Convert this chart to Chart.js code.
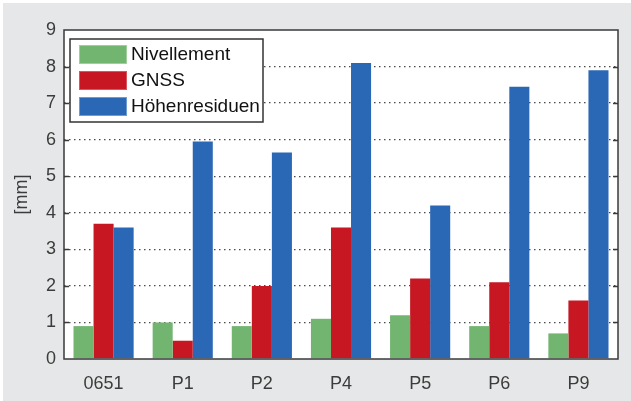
<!DOCTYPE html>
<html>
<head>
<meta charset="utf-8">
<script src="https://cdn.jsdelivr.net/npm/chart.js@4.4.0/dist/chart.umd.min.js"></script>
<style>
html, body { margin: 0; padding: 0; background: #fff; }
</style>
</head>
<body>
<canvas id="chart" width="631" height="401"></canvas>
<script>
"use strict";

// values, in mm
const labels = ['0651', 'P1', 'P2', 'P4', 'P5', 'P6', 'P9'];
const nivellement = [0.9, 1.0, 0.9, 1.1, 1.2, 0.9, 0.7];
const gnss = [3.7, 0.5, 2.0, 3.6, 2.2, 2.1, 1.6];
const hoehenresiduen = [3.6, 5.95, 5.65, 8.1, 4.2, 7.45, 7.9];
const yMin = 0;
const yMax = 9;

const fontFamily = '"Liberation Sans", Arial, Helvetica, sans-serif';

// background, plot box, inward tick marks and the boxed legend
const frame = {
    id: 'frame',
    beforeDraw(chart) {
        const ctx = chart.ctx;
        const a = chart.chartArea;
        ctx.save();
        ctx.fillStyle = '#ffffff';
        ctx.fillRect(0, 0, chart.width, chart.height);
        ctx.fillStyle = '#e6e7e8';
        ctx.fillRect(3, 3, chart.width - 3, chart.height - 3);
        ctx.fillStyle = '#ffffff';
        ctx.fillRect(a.left, a.top, a.right - a.left, a.bottom - a.top);
        ctx.restore();
    },
    afterDatasetsDraw(chart) {
        const ctx = chart.ctx;
        const a = chart.chartArea;
        const y = chart.scales.y;
        ctx.save();
        // box
        ctx.strokeStyle = '#3a3a3a';
        ctx.lineWidth = 1.5;
        ctx.strokeRect(a.left, a.top, a.right - a.left, a.bottom - a.top);
        // inward ticks
        ctx.lineWidth = 1.5;
        for (let v = yMin + 1; v < yMax; v++) {
            const py = Math.round(y.getPixelForValue(v)) + 0.5;
            ctx.beginPath();
            ctx.moveTo(a.left, py);
            ctx.lineTo(a.left + 5, py);
            ctx.moveTo(a.right, py);
            ctx.lineTo(a.right - 5, py);
            ctx.stroke();
        }
        // legend
        const lx = 70, ly = 39, lw = 193, lh = 83;
        ctx.fillStyle = '#ffffff';
        ctx.fillRect(lx, ly, lw, lh);
        ctx.strokeStyle = '#333333';
        ctx.lineWidth = 1.5;
        ctx.strokeRect(lx, ly, lw, lh);
        ctx.font = '19px ' + fontFamily;
        ctx.textBaseline = 'middle';
        ctx.textAlign = 'left';
        chart.data.datasets.forEach(function(ds, i) {
            const top = 45 + i * 26;
            ctx.fillStyle = ds.backgroundColor;
            ctx.fillRect(79, top, 48, 19);
            ctx.strokeStyle = ds.borderColor;
            ctx.lineWidth = 1;
            ctx.strokeRect(79.5, top + 0.5, 47, 18);
            ctx.fillStyle = '#111111';
            ctx.fillText(ds.label, 131, top + 10);
        });
        ctx.restore();
    }
};

const ctx = document.getElementById('chart').getContext('2d');
const chart = new Chart(ctx, {
    type: 'bar',
    data: {
        labels: labels,
        datasets: [{
            label: 'Nivellement',
            data: nivellement,
            backgroundColor: '#72b571',
            borderColor: '#9fd09c',
            borderWidth: 0
        }, {
            label: 'GNSS',
            data: gnss,
            backgroundColor: '#c61722',
            borderColor: '#d9565d',
            borderWidth: 0
        }, {
            label: 'Höhenresiduen',
            data: hoehenresiduen,
            backgroundColor: '#2a67b5',
            borderColor: '#6f9bd3',
            borderWidth: 0
        }]
    },
    options: {
        responsive: false,
        animation: false,
        devicePixelRatio: 1,
        layout: { padding: { top: 30, right: 13, left: 0, bottom: 0 } },
        datasets: {
            bar: { barPercentage: 1.0, categoryPercentage: 0.76 }
        },
        plugins: {
            legend: { display: false },
            tooltip: { enabled: false }
        },
        scales: {
            x: {
                grid: { display: false },
                border: { display: false },
                ticks: {
                    color: '#3c3c3c',
                    padding: 6,
                    font: { family: fontFamily, size: 18 }
                },
                afterFit(scale) { scale.height = 42; }
            },
            y: {
                min: yMin,
                max: yMax,
                grid: {
                    drawTicks: false,
                    lineWidth: 1.3,
                    color: function(c) {
                        const v = c.tick ? c.tick.value : 0;
                        return (v === yMin || v === yMax) ? 'rgba(0,0,0,0)' : '#4a4a4a';
                    }
                },
                border: { display: false, dash: [1.5, 3.5] },
                ticks: {
                    stepSize: 1,
                    color: '#3c3c3c',
                    padding: 8,
                    font: { family: fontFamily, size: 18 }
                },
                title: {
                    display: true,
                    text: '[mm]',
                    color: '#3c3c3c',
                    padding: { top: 11, bottom: 0 },
                    font: { family: fontFamily, size: 18 }
                },
                afterFit(scale) { scale.width = 64; }
            }
        }
    },
    plugins: [frame]
});
</script>
</body>
</html>
